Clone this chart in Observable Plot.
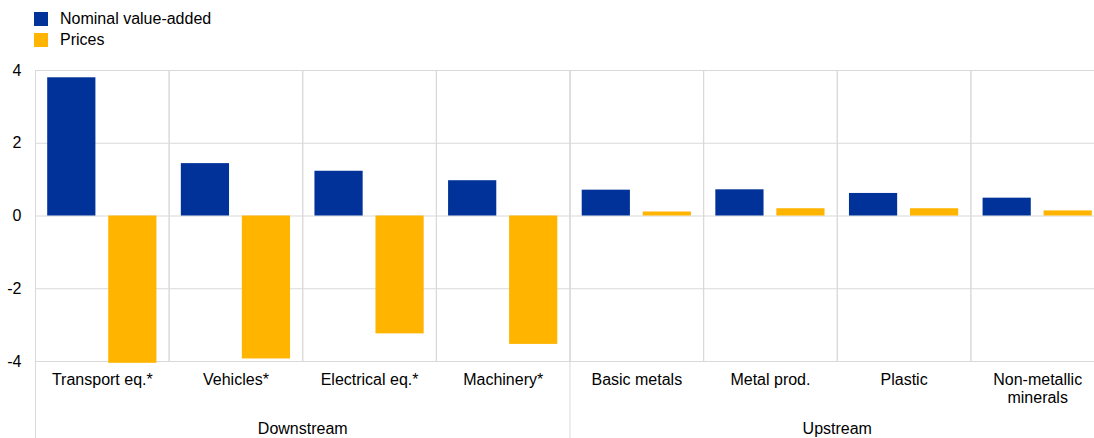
<!DOCTYPE html>
<html>
<head>
<meta charset="utf-8">
<script src="https://cdn.jsdelivr.net/npm/d3@7"></script>
<script src="https://cdn.jsdelivr.net/npm/@observablehq/plot@0.6"></script>
<style>
  html, body { margin: 0; padding: 0; background: #fff; overflow: hidden; }
  body { width: 1094px; height: 438px; font-family: "Liberation Sans", Arial, sans-serif; color: #000; }
  #legend { box-sizing: border-box; height: 56px; padding: 12px 0 0 34px; }
  .row { display: flex; align-items: center; height: 14px; margin-bottom: 7px; font-size: 16px; line-height: 14px; }
  .sw { width: 14px; height: 14px; margin-right: 12px; flex: none; }
  #chart { width: 1104px; }
  #chart svg { display: block; overflow: visible; max-width: none !important; width: 1104px; height: 382px; }
</style>
</head>
<body>
<div id="legend"></div>
<div id="chart"></div>
<script>
// ---- data ----
const categories = ["Transport eq.*", "Vehicles*", "Electrical eq.*", "Machinery*", "Basic metals", "Metal prod.", "Plastic", "Non-metallic minerals"];
const categoryGroups = ["Downstream", "Downstream", "Downstream", "Downstream", "Upstream", "Upstream", "Upstream", "Upstream"];
const seriesNames = ["Nominal value-added", "Prices"];
const nominalValueAdded = [3.80, 1.44, 1.23, 0.97, 0.71, 0.72, 0.62, 0.49];
const prices = [-4.05, -3.93, -3.24, -3.53, 0.11, 0.20, 0.20, 0.14];
const yTicks = [-4, -2, 0, 2, 4];
const categoryLabels = {"Non-metallic minerals": "Non-metallic\nminerals"};

// ---- styles ----
const colors = ["#003299", "#FFB400"];
const gridColor = "#d9d9d9";

// legend
const legend = document.getElementById("legend");
seriesNames.forEach((s, i) => {
  const row = document.createElement("div");
  row.className = "row";
  row.innerHTML = `<span class="sw" style="background:${colors[i]}"></span><span>${s}</span>`;
  legend.appendChild(row);
});

// tidy table
const table = [];
categories.forEach((c, i) => {
  table.push({category: c, series: seriesNames[0], value: nominalValueAdded[i]});
  table.push({category: c, series: seriesNames[1], value: prices[i]});
});

// group labels: centred over each group (right edge of the middle category)
const groupNames = Array.from(new Set(categoryGroups));
const groupLabels = groupNames.map(g => {
  const members = categories.filter((c, i) => categoryGroups[i] === g);
  return {name: g, anchorCat: members[members.length / 2 - 1], first: members[0]};
});

const chart = Plot.plot({
  width: 1104,
  height: 382,
  marginLeft: 35,
  marginRight: 0,
  marginTop: 14,
  marginBottom: 77,
  style: {fontFamily: '"Liberation Sans", Arial, sans-serif', fontSize: "16px", color: "#000", background: "transparent", maxWidth: "none"},
  fx: {domain: categories, padding: 0, round: false, label: null},
  x: {domain: seriesNames, paddingInner: 0.21, paddingOuter: 0.2, round: false, axis: null},
  y: {domain: [-4, 4], label: null},
  color: {domain: seriesNames, range: colors},
  marks: [
    Plot.ruleY(yTicks, {stroke: gridColor, strokeWidth: 1}),
    Plot.frame({stroke: gridColor, strokeWidth: 1}),
    ...groupLabels.map(g => Plot.frame({anchor: "left", fx: g.first, insetBottom: -77, stroke: gridColor, strokeWidth: 1})),
    Plot.barY(table, {fx: "category", x: "series", y: "value", fill: "series"}),
    Plot.axisY({ticks: yTicks, tickSize: 0, tickPadding: 14, tickFormat: d => String(d), label: null, fontSize: 16}),
    Plot.axisFx({anchor: "bottom", tickSize: 0, tickPadding: 11, label: null, fontSize: 16, lineHeight: 1.1,
      tickFormat: d => categoryLabels[d] ?? d}),
    Plot.text(groupLabels, {fx: "anchorCat", text: "name", frameAnchor: "bottom-right", textAnchor: "middle", lineAnchor: "top", dy: 61, fontSize: 16, fill: "#000"})
  ]
});
document.getElementById("chart").appendChild(chart);
</script>
</body>
</html>
